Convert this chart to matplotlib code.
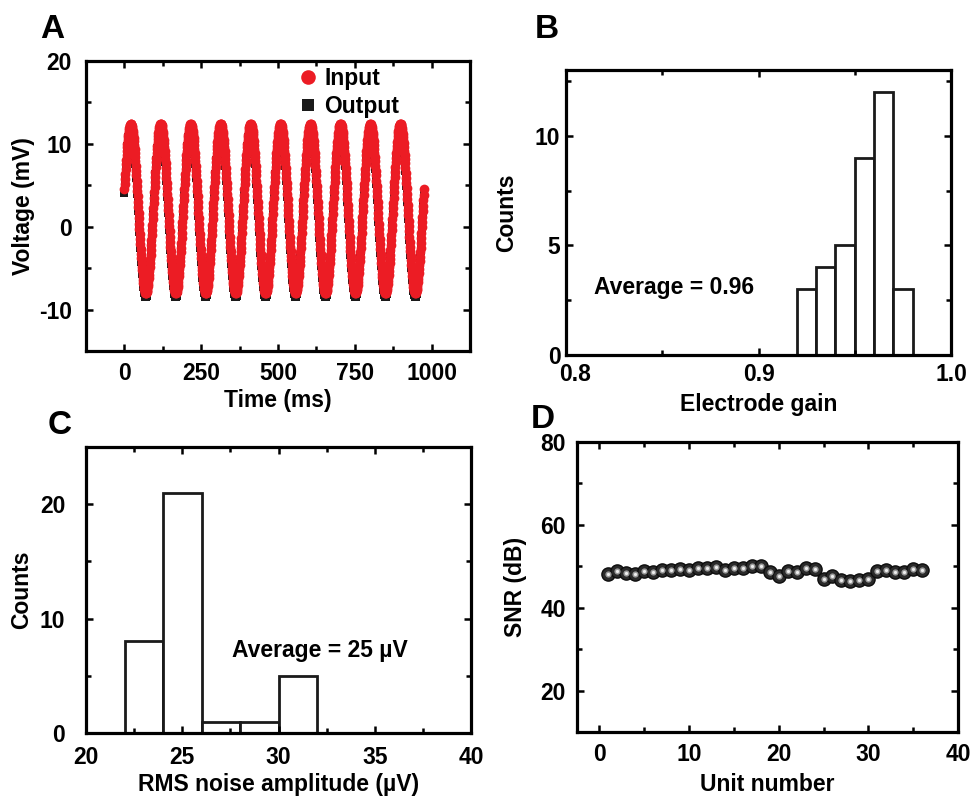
import numpy as np
import matplotlib
matplotlib.use("Agg")
import matplotlib.pyplot as plt
from matplotlib.ticker import MultipleLocator
from matplotlib.transforms import ScaledTranslation

plt.rcParams['font.family'] = ['Liberation Sans', 'DejaVu Sans']
plt.rcParams['font.weight'] = 'bold'
plt.rcParams['axes.labelweight'] = 'bold'
plt.rcParams['axes.unicode_minus'] = False

# ---- panel A: test sine (parameters) ----
PERIOD_MS = 97.5
T_END_MS = 975
IN_OFFSET, IN_AMP = 2.2, 10.2
OUT_OFFSET, OUT_AMP = 1.8, 10.3
PHASE = 0.227

# ---- panel B: electrode gain histogram ----
gain_edges = [0.92, 0.93, 0.94, 0.95, 0.96, 0.97, 0.98]
gain_counts = [3, 4, 5, 9, 12, 3]

# ---- panel C: RMS noise histogram ----
noise_edges = [22, 24, 26, 28, 30, 32]
noise_counts = [8, 21, 1, 1, 5]

# ---- panel D: SNR per unit ----
units = list(range(1, 37))
snr = [48.2, 48.9, 48.4, 48.1, 48.8, 48.7, 49.2, 49.2, 49.3, 49.1,
       49.6, 49.5, 49.8, 49.2, 49.7, 49.5, 50.0, 50.0, 48.7, 47.7,
       48.8, 48.6, 49.5, 49.4, 46.9, 47.6, 46.6, 46.4, 46.8, 47.0,
       48.8, 49.1, 48.7, 48.7, 49.4, 49.1]

W, H = 971, 798
FS = 16.5


def px_axes(fig, left, top, right, bottom):
    return fig.add_axes([left / W, 1 - bottom / H, (right - left) / W, (bottom - top) / H])


def style(ax, xpad, ypad):
    for s in ax.spines.values():
        s.set_linewidth(2.3)
    ax.tick_params(which='both', direction='in', top=True, right=True,
                   width=1.8, labelsize=FS)
    ax.tick_params(axis='x', pad=xpad)
    ax.tick_params(axis='y', pad=ypad)
    ax.tick_params(which='major', length=5)
    ax.tick_params(which='minor', length=3.5)


fig = plt.figure(figsize=(W / 100, H / 100), dpi=100)

# A
ax = px_axes(fig, 86, 61, 470, 351)
t = np.arange(0, T_END_MS + 1, 1.0)
v_in = IN_OFFSET + IN_AMP * np.sin(2 * np.pi * t / PERIOD_MS + PHASE)
v_out = OUT_OFFSET + OUT_AMP * np.sin(2 * np.pi * t / PERIOD_MS + PHASE)
ax.plot(t, v_out, 's', color='#1a1a1a', markersize=6, markeredgewidth=0, label='Output')
ax.plot(t, v_in, 'o', color='#ec1c24', markersize=7, markeredgewidth=0, label='Input')
ax.set_xlim(-125, 1125)
ax.set_ylim(-15, 20)
ax.xaxis.set_major_locator(MultipleLocator(250))
ax.xaxis.set_minor_locator(MultipleLocator(125))
ax.yaxis.set_major_locator(MultipleLocator(10))
ax.yaxis.set_minor_locator(MultipleLocator(5))
style(ax, 8, 10)
ax.set_xlabel('Time (ms)', fontsize=FS, labelpad=3)
ax.set_ylabel('Voltage (mV)', fontsize=FS, labelpad=3)
h, l = ax.get_legend_handles_labels()
leg = ax.legend(h[::-1], l[::-1], loc='upper right', frameon=False, fontsize=FS,
                markerscale=1.5, handletextpad=0.2, handlelength=1.0,
                borderaxespad=0.1, labelspacing=0.25, bbox_to_anchor=(0.845, 1.02))
fig.text(52 / W, 1 - 30 / H, 'A', fontsize=24, fontweight='bold', ha='center', va='center')

# B
ax = px_axes(fig, 566, 70, 951, 355)
ax.bar(gain_edges[:-1], gain_counts, width=np.diff(gain_edges), align='edge',
       facecolor='white', edgecolor='#1a1a1a', linewidth=2)
ax.set_xlim(0.8, 1.0)
ax.set_ylim(0, 13)
ax.xaxis.set_major_locator(MultipleLocator(0.1))
ax.xaxis.set_minor_locator(MultipleLocator(0.05))
ax.yaxis.set_major_locator(MultipleLocator(5))
ax.yaxis.set_minor_locator(MultipleLocator(2.5))
style(ax, 6, 4)
ax.set_xticks([0.8, 0.9, 1.0], ['0.8', '0.9', '1.0'])
first = ax.get_xticklabels()[0]
first.set_transform(first.get_transform() + ScaledTranslation(0.09, 0, fig.dpi_scale_trans))
ax.set_xlabel('Electrode gain', fontsize=FS, labelpad=5)
ax.set_ylabel('Counts', fontsize=FS, labelpad=12)
ax.text(0.8145, 3.1, 'Average = 0.96', fontsize=FS, fontweight='bold', va='center', ha='left')
fig.text(547 / W, 1 - 30 / H, 'B', fontsize=24, fontweight='bold', ha='center', va='center')

# C
ax = px_axes(fig, 86, 447, 471, 733)
ax.bar(noise_edges[:-1], noise_counts, width=np.diff(noise_edges), align='edge',
       facecolor='white', edgecolor='#1a1a1a', linewidth=2)
ax.set_xlim(20, 40)
ax.set_ylim(0, 25)
ax.xaxis.set_major_locator(MultipleLocator(5))
ax.xaxis.set_minor_locator(MultipleLocator(2.5))
ax.yaxis.set_major_locator(MultipleLocator(10))
ax.yaxis.set_minor_locator(MultipleLocator(5))
style(ax, 9, 15)
ax.set_xlabel('RMS noise amplitude (µV)', fontsize=FS, labelpad=3)
ax.set_ylabel('Counts', fontsize=FS, labelpad=5)
ax.text(27.6, 7.2, 'Average = 25 µV', fontsize=FS, fontweight='bold', va='center', ha='left')
fig.text(60 / W, 1 - 425 / H, 'C', fontsize=24, fontweight='bold', ha='center', va='center')

# D
ax = px_axes(fig, 577, 442, 958, 732)
ax.plot(units, snr, '-', color='#1a1a1a', linewidth=4, zorder=2)
ax.plot(units, snr, 'o', color='#2a2a2a', markeredgecolor='#0d0d0d',
        markeredgewidth=1.0, markersize=9.5, zorder=3)
ax.plot(units, snr, 'o', color='#9a9a9a', markeredgewidth=0, markersize=4.5, zorder=4)
ax.plot(units, snr, 'o', color='#eeeeee', markeredgewidth=0, markersize=2.3, zorder=5)
ax.set_xlim(-2.5, 40)
ax.set_ylim(10, 80)
ax.xaxis.set_major_locator(MultipleLocator(10))
ax.xaxis.set_minor_locator(MultipleLocator(5))
ax.yaxis.set_major_locator(MultipleLocator(20))
ax.yaxis.set_minor_locator(MultipleLocator(10))
style(ax, 8, 8)
ax.set_xlabel('Unit number', fontsize=FS, labelpad=5)
ax.set_ylabel('SNR (dB)', fontsize=FS, labelpad=10)
fig.text(543 / W, 1 - 420 / H, 'D', fontsize=24, fontweight='bold', ha='center', va='center')

fig.savefig('out.png', dpi=100)
